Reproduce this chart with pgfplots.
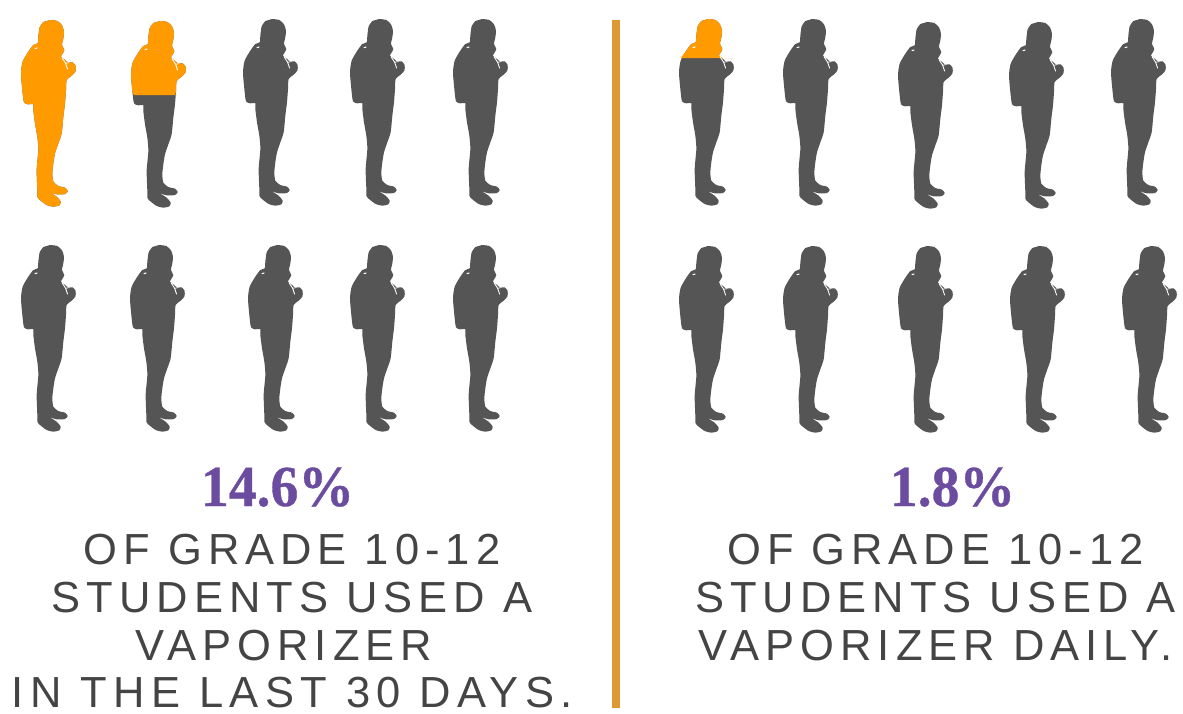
\documentclass[border=0pt]{standalone}
\usepackage{pgfplots}
\usepackage{pgfplotstable}
\usepackage{fontspec}
\pgfplotsset{compat=1.18}
\setmainfont{Liberation Sans}
\newfontfamily\bodyfont[LetterSpace=13.8]{Liberation Sans}
\newfontfamily\bodyfontw[LetterSpace=15.0]{Liberation Sans}
\newfontfamily\numfont[BoldFeatures={FakeBold=0.6}]{Liberation Serif}
\definecolor{pgray}{HTML}{555555}
\definecolor{porange}{HTML}{FF9A00}
\definecolor{ppurple}{HTML}{6B4C9F}
\definecolor{pbar}{HTML}{DD9933}
\definecolor{ptext}{HTML}{444444}
\pgfplotstableread{
x y
150 30
172 33
186 46
192 65
190 85
186 105
193 120
187 132
183 140
195 150
205 158
218 157
227 168
226 185
215 197
200 210
198 240
195 280
190 320
185 370
175 400
165 430
160 460
157 490
160 515
175 528
195 533
203 543
195 552
170 553
150 547
170 560
182 575
178 586
160 590
140 585
120 570
112 560
112 540
110 480
115 420
112 380
105 340
100 300
100 282
85 283
72 277
67 240
63 190
68 155
85 125
100 105
113 100
115 80
119 52
130 36
}\sil
\pgfplotstableread{
x y
186 143
197 160
203 178
}\strapA
\pgfplotstableread{
x y
197 160
206 158
}\strapB
\pgfplotstableread{
x y
104 116
112 114
}\strapC
\newcommand{\details}[2]{%
  \addplot[white,line width=0.9pt,no marks] table[x expr=\thisrow{x}/3+#1,y expr=\thisrow{y}/3+#2+10]{\strapA};
  \addplot[white,line width=0.7pt,no marks] table[x expr=\thisrow{x}/3+#1,y expr=\thisrow{y}/3+#2+10]{\strapB};
  \addplot[white,line width=1.1pt,no marks] table[x expr=\thisrow{x}/3+#1,y expr=\thisrow{y}/3+#2+10]{\strapC};
}
\newcommand{\person}[2]{%
  \addplot[fill=pgray,draw=none,no marks,smooth,tension=0.4] table[x expr=\thisrow{x}/3+#1,y expr=\thisrow{y}/3+#2+10]{\sil};
  \details{#1}{#2}
}
% dx, dy, level: part above the level is orange
\newcommand{\filled}[3]{%
  \addplot[fill=pgray,draw=none,no marks,smooth,tension=0.4] table[x expr=\thisrow{x}/3+#1,y expr=\thisrow{y}/3+#2+10]{\sil};
  \addplot[fill=porange,draw=none,no marks,smooth,tension=0.4] table[x expr=\thisrow{x}/3+#1,y expr={min(\thisrow{y}/3+#2+10,#3)}]{\sil};
  \details{#1}{#2}
}
\begin{document}
\begin{tikzpicture}
\begin{axis}[
  scale only axis,width=1183pt,height=713pt,
  xmin=0,xmax=1183,ymin=0,ymax=713,y dir=reverse,
  axis lines=none,clip=false]
% left panel, top row
\filled{0}{0}{300}
\filled{110}{1}{95}
\person{222}{-1}
\person{329}{-1}
\person{432}{-1}
% left panel, bottom row
\person{0}{225}
\person{109}{225}
\person{227}{225}
\person{329}{225}
\person{432}{225}
% right panel, top row
\filled{658}{-1}{58}
\person{762}{-1}
\person{877}{2}
\person{988}{2}
\person{1090}{-1}
% right panel, bottom row
\person{658}{226}
\person{762}{226}
\person{877}{226}
\person{989}{226}
\person{1101}{226}
% divider
\addplot[fill=pbar,draw=none,no marks] coordinates {(612,20) (620,20) (620,708) (612,708)};
% texts
\def\big#1#2#3{\node[anchor=base,inner sep=0pt,text=ppurple] at (axis cs:#1,#2) {\scalebox{0.96}[1]{\fontsize{58}{60}\selectfont\numfont\bfseries #3}};}
\def\ln#1#2#3{\node[anchor=base,inner sep=0pt,text=ptext] at (axis cs:#1,#2) {\fontsize{43.5}{48}\selectfont\bodyfont #3};}
\def\lnw#1#2#3{\node[anchor=base,inner sep=0pt,text=ptext] at (axis cs:#1,#2) {\fontsize{43.5}{48}\selectfont\bodyfontw #3};}
\big{277.5}{506}{14.6\%}
\big{952.5}{506}{1.8\%}
\ln{292}{564}{OF GRADE 10-12}
\ln{292}{612}{STUDENTS USED A}
\ln{284}{660}{VAPORIZER}
\lnw{292.5}{707}{IN THE LAST 30 DAYS.}
\ln{935.5}{564}{OF GRADE 10-12}
\ln{935.5}{612}{STUDENTS USED A}
\ln{935.5}{660}{VAPORIZER DAILY.}
\end{axis}
\path (current axis.south west) rectangle (current axis.north east);
\end{tikzpicture}
\end{document}
